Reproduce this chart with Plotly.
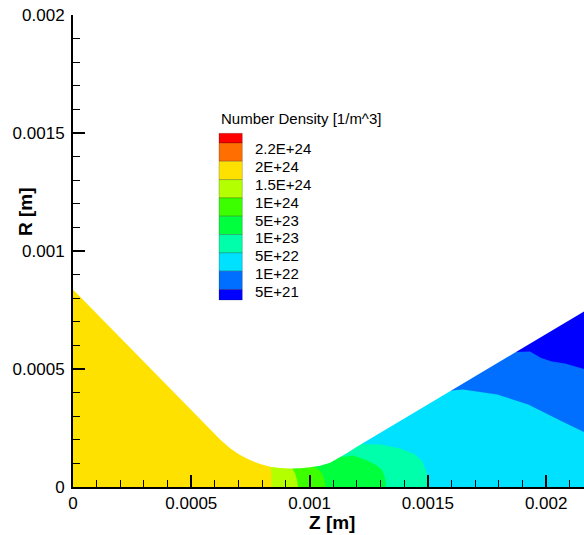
import plotly.graph_objects as go

# ---------------- data (metres) ----------------
# Nozzle wall profile
wall_z = [0.0, 0.000537, 0.000579, 0.000622, 0.000664, 0.000706, 0.000748, 0.000791,
          0.000833, 0.000875, 0.000918, 0.000960, 0.001002, 0.001044, 0.001087, 0.001129,
          0.001157, 0.001200, 0.001242, 0.001298, 0.002161, 0.002300]
wall_r = [0.000837, 0.000286, 0.000243, 0.000201, 0.000164, 0.000136, 0.000114, 0.0000975,
          0.0000860, 0.0000805, 0.0000788, 0.0000792, 0.0000835, 0.0000903, 0.000103, 0.000126,
          0.000143, 0.000171, 0.000196, 0.000231, 0.000744, 0.000827]

# Contour band boundaries (axis -> wall)
b_yellow_lime_z = [0.000839, 0.000839, 0.000835]
b_yellow_lime_r = [0.0, 0.0000508, 0.0000869]
b_lime_green_z = [0.000951, 0.000947, 0.000939, 0.000926]
b_lime_green_r = [0.0, 0.0000297, 0.0000572, 0.0000792]
b_green_green2_z = [0.001068, 0.001063, 0.001053, 0.001032, 0.001015]
b_green_green2_r = [0.0, 0.0000297, 0.0000572, 0.0000805, 0.0000856]
b_green2_teal_z = [0.001323, 0.001319, 0.001307, 0.001281, 0.001239, 0.001184, 0.001133]
b_green2_teal_r = [0.0, 0.0000381, 0.0000720, 0.0000932, 0.000114, 0.000133, 0.000127]
b_teal_cyan_z = [0.001503, 0.001497, 0.001476, 0.001442, 0.001383, 0.001298, 0.001218]
b_teal_cyan_r = [0.0, 0.0000551, 0.000110, 0.000140, 0.000163, 0.000180, 0.000182]
# boundaries (wall -> right edge)
b_cyan_azure_z = [0.001581, 0.001649, 0.001793, 0.001924, 0.002068, 0.002161]
b_cyan_azure_r = [0.000407, 0.000413, 0.000392, 0.000350, 0.000278, 0.000233]
b_azure_blue_z = [0.001869, 0.001932, 0.001979, 0.002025, 0.002080, 0.002161]
b_azure_blue_r = [0.000572, 0.000574, 0.000547, 0.000532, 0.000523, 0.000500]

# Legend levels and band colours (top -> bottom)
level_labels = ["2.2E+24", "2E+24", "1.5E+24", "1E+24", "5E+23",
                "1E+23", "5E+22", "1E+22", "5E+21"]
band_colors = ["#ff0000", "#ff6e00", "#ffe100", "#b4ff00", "#3cff00",
               "#00ff3c", "#00ffaa", "#00e1ff", "#006eff", "#0000ff"]

x_tickvals = [0, 0.0005, 0.001, 0.0015, 0.002]
x_ticktext = ["0", "0.0005", "0.001", "0.0015", "0.002"]
y_tickvals = [0, 0.0005, 0.001, 0.0015, 0.002]
y_ticktext = ["0", "0.0005", "0.001", "0.0015", "0.002"]

# ---------------- figure ----------------
ZMAX = 0.0023
RTOP = 0.003
FONT = "Liberation Sans, Arial, sans-serif"

fig = go.Figure()


def add_fill(zs, rs, color):
    fig.add_trace(go.Scatter(x=zs, y=rs, mode="lines", fill="toself",
                             fillcolor=color, line=dict(width=0, color=color),
                             hoverinfo="skip", showlegend=False))


def right_of(bz, br):
    return (list(bz) + [bz[-1], ZMAX, ZMAX], list(br) + [RTOP, RTOP, 0.0])


def above(bz, br):
    return (list(bz) + [ZMAX, ZMAX, bz[0]], list(br) + [br[-1], RTOP, RTOP])


# base band (2E+24 .. 1.5E+24 region)
add_fill([0, ZMAX, ZMAX, 0], [0, 0, RTOP, RTOP], band_colors[2])
add_fill(*right_of(b_yellow_lime_z, b_yellow_lime_r), band_colors[3])
add_fill(*right_of(b_lime_green_z, b_lime_green_r), band_colors[4])
add_fill(*right_of(b_green_green2_z, b_green_green2_r), band_colors[5])
add_fill(*right_of(b_green2_teal_z, b_green2_teal_r), band_colors[6])
add_fill(*right_of(b_teal_cyan_z, b_teal_cyan_r), band_colors[7])
add_fill(*above(b_cyan_azure_z, b_cyan_azure_r), band_colors[8])
add_fill(*above(b_azure_blue_z, b_azure_blue_r), band_colors[9])
# outside the nozzle (above the wall)
add_fill(wall_z + [ZMAX, 0.0], wall_r + [RTOP, RTOP], "#ffffff")

# plot-area pixel helpers (plot area: x 73..584, y 15..487)
L, T, W, H = 73, 15, 511, 472


def px(x):
    return (x - L) / W


def py(y):
    return (T + H - y) / H


shapes = []
annotations = []
# legend swatches
sw_edges = [133.3, 143.0] + [143.0 + 18.31 * i for i in range(1, 9)] + [300.0]
for i, c in enumerate(band_colors):
    shapes.append(dict(type="rect", xref="paper", yref="paper",
                       x0=px(219), x1=px(242.3), y0=py(sw_edges[i + 1]), y1=py(sw_edges[i]),
                       fillcolor=c, line=dict(color="rgba(0,0,0,0.35)", width=0.6),
                       layer="above"))
for i, lab in enumerate(level_labels):
    annotations.append(dict(xref="paper", yref="paper", x=px(253), y=py(148.3 + 17.93 * i),
                            text=lab, showarrow=False, xanchor="left", yanchor="middle",
                            font=dict(family=FONT, size=15, color="black")))
annotations.append(dict(xref="paper", yref="paper", x=px(219), y=py(119),
                        text="Number Density [1/m^3]", showarrow=False,
                        xanchor="left", yanchor="middle",
                        font=dict(family=FONT, size=15, color="black")))
# axis titles
annotations.append(dict(xref="paper", yref="paper", x=px(332), y=py(522),
                        text="<b>Z [m]</b>", showarrow=False,
                        xanchor="center", yanchor="middle",
                        font=dict(family=FONT, size=19, color="black")))
annotations.append(dict(xref="paper", yref="paper", x=px(25), y=py(212),
                        text="<b>R [m]</b>", showarrow=False, textangle=-90,
                        xanchor="center", yanchor="middle",
                        font=dict(family=FONT, size=19, color="black")))

axis_common = dict(showgrid=False, zeroline=False, showline=True, linewidth=2,
                   linecolor="black", ticks="inside", ticklen=12, tickwidth=2,
                   tickcolor="black", tickfont=dict(family=FONT, size=17, color="black"),
                   minor=dict(ticks="inside", ticklen=7, tickwidth=1, tickcolor="black",
                              dtick=0.0001, tick0=0, showgrid=False),
                   layer="above traces", fixedrange=True)

fig.update_layout(
    width=584, height=535,
    margin=dict(l=L, r=584 - L - W, t=T, b=535 - T - H, pad=0),
    plot_bgcolor="white", paper_bgcolor="white",
    xaxis=dict(range=[0, 0.00216], tickvals=x_tickvals, ticktext=x_ticktext, **axis_common),
    yaxis=dict(range=[0, 0.002], tickvals=y_tickvals, ticktext=y_ticktext,
               ticklabelstandoff=3, **axis_common),
    shapes=shapes, annotations=annotations, showlegend=False,
)

fig.write_html("out.html", config={"displayModeBar": False},
               post_script="document.body.style.margin='0';document.body.style.overflow='hidden';")
